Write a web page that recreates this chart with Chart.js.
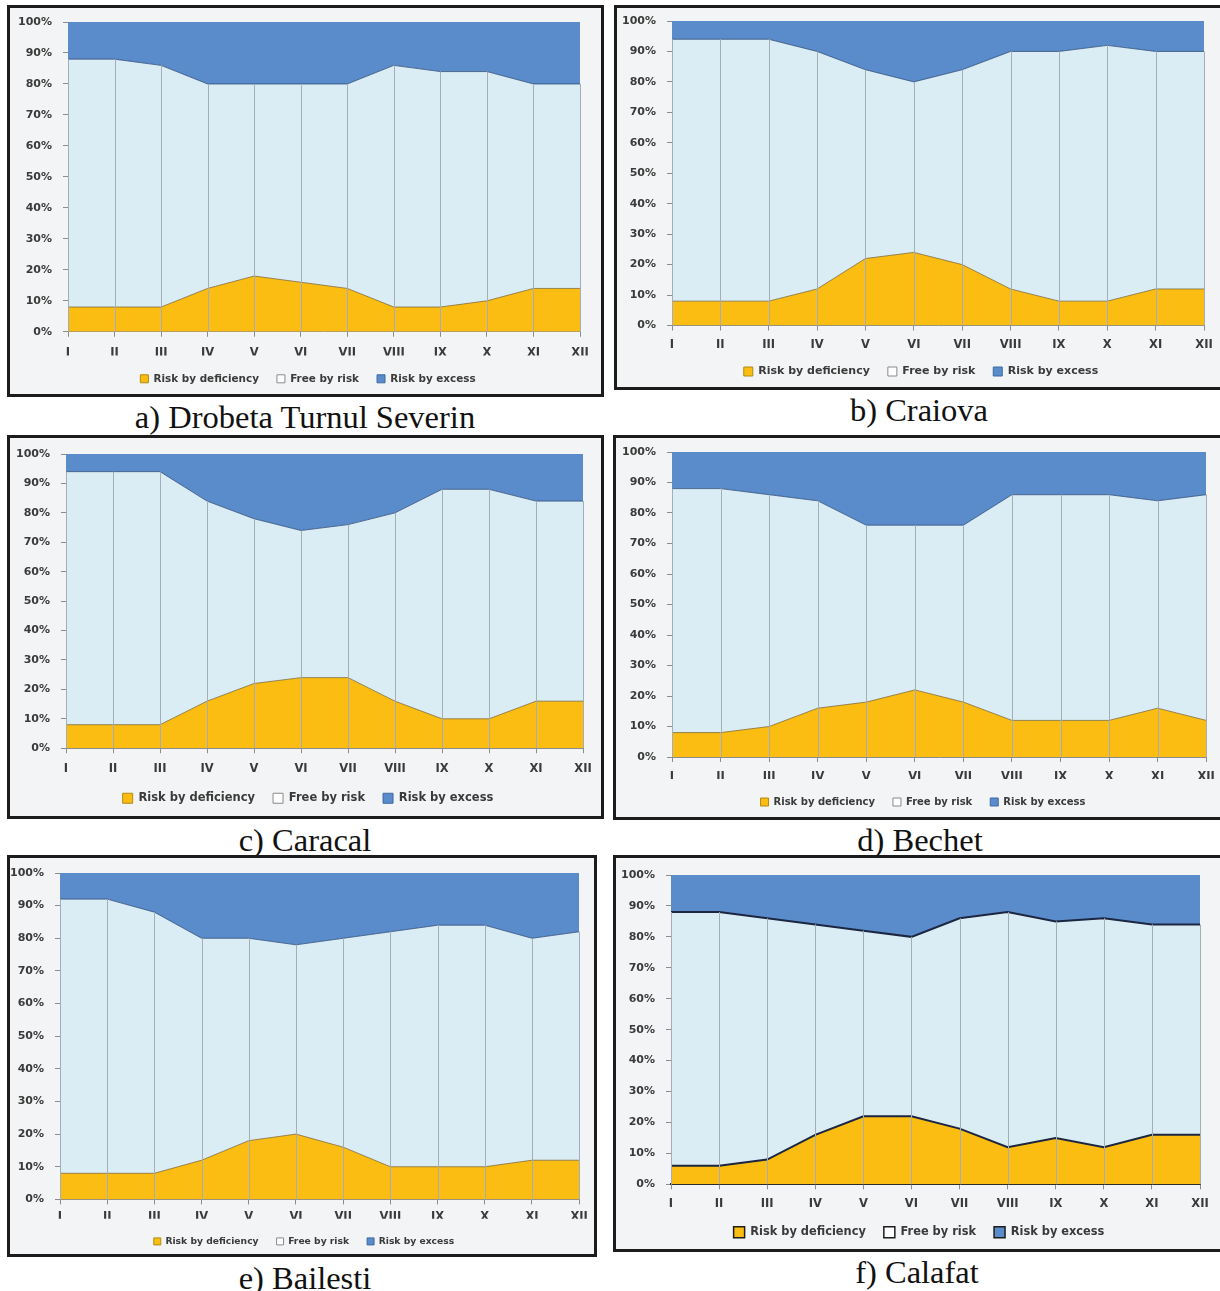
<!DOCTYPE html>
<html>
<head>
<meta charset="utf-8">
<title>Monthly risk frequency – stations</title>
<script src="https://cdn.jsdelivr.net/npm/chart.js@4.4.1/dist/chart.umd.min.js"></script>
<style>
  html, body { margin: 0; padding: 0; background: #ffffff; }
  body { width: 1220px; height: 1291px; position: relative; overflow: hidden; }
  .panel { position: absolute; box-sizing: border-box; border: 3px solid #1c1c1c; background: #f3f4f5; overflow: hidden; }
  .panel canvas { position: absolute; left: 0; top: 0; }
  .caption { position: absolute; font-family: "Liberation Serif", "Times New Roman", serif; font-size: 32.5px; color: #111; white-space: nowrap; transform: translate(-50%, -50%); line-height: 1; }
</style>
</head>
<body>
<script>
// Month labels on the category axis
const months = ['I', 'II', 'III', 'IV', 'V', 'VI', 'VII', 'VIII', 'IX', 'X', 'XI', 'XII'];
const seriesNames = ['Risk by deficiency', 'Free by risk', 'Risk by excess'];
const percentTicks = [0, 10, 20, 30, 40, 50, 60, 70, 80, 90, 100];

// a) Drobeta Turnul Severin (% of years)
const drobetaDeficiency = [8, 8, 8, 14, 18, 16, 14, 8, 8, 10, 14, 14];
const drobetaFree       = [80, 80, 78, 66, 62, 64, 66, 78, 76, 74, 66, 66];
const drobetaExcess     = [12, 12, 14, 20, 20, 20, 20, 14, 16, 16, 20, 20];

// b) Craiova
const craiovaDeficiency = [8, 8, 8, 12, 22, 24, 20, 12, 8, 8, 12, 12];
const craiovaFree       = [86, 86, 86, 78, 62, 56, 64, 78, 82, 84, 78, 78];
const craiovaExcess     = [6, 6, 6, 10, 16, 20, 16, 10, 10, 8, 10, 10];

// c) Caracal
const caracalDeficiency = [8, 8, 8, 16, 22, 24, 24, 16, 10, 10, 16, 16];
const caracalFree       = [86, 86, 86, 68, 56, 50, 52, 64, 78, 78, 68, 68];
const caracalExcess     = [6, 6, 6, 16, 22, 26, 24, 20, 12, 12, 16, 16];

// d) Bechet
const bechetDeficiency = [8, 8, 10, 16, 18, 22, 18, 12, 12, 12, 16, 12];
const bechetFree       = [80, 80, 76, 68, 58, 54, 58, 74, 74, 74, 68, 74];
const bechetExcess     = [12, 12, 14, 16, 24, 24, 24, 14, 14, 14, 16, 14];

// e) Bailesti
const bailestiDeficiency = [8, 8, 8, 12, 18, 20, 16, 10, 10, 10, 12, 12];
const bailestiFree       = [84, 84, 80, 68, 62, 58, 64, 72, 74, 74, 68, 70];
const bailestiExcess     = [8, 8, 12, 20, 20, 22, 20, 18, 16, 16, 20, 18];

// f) Calafat
const calafatDeficiency = [6, 6, 8, 16, 22, 22, 18, 12, 15, 12, 16, 16];
const calafatFree       = [82, 82, 78, 68, 60, 58, 68, 76, 70, 74, 68, 68];
const calafatExcess     = [12, 12, 14, 16, 18, 20, 14, 12, 15, 14, 16, 16];

const captions = ['a) Drobeta Turnul Severin', 'b) Craiova', 'c) Caracal', 'd) Bechet', 'e) Bailesti', 'f) Calafat'];

// Panel frames, plot rectangles, legend/caption anchors (page pixels)
const panels = [
  { caption: captions[0], def: drobetaDeficiency, free: drobetaFree, exc: drobetaExcess,
    box: [7, 5, 604, 397], plot: { left: 68, right: 580, top: 22, bottom: 331 },
    xLabelY: 352, legendY: 378, legendX: 308, legendFont: 10.4, legendBox: 8, cap: [305, 417], style: 'thin' },
  { caption: captions[1], def: craiovaDeficiency, free: craiovaFree, exc: craiovaExcess,
    box: [614, 5, 1226, 390], plot: { left: 672, right: 1204, top: 21, bottom: 325 },
    xLabelY: 345, legendY: 371, legendX: 921, legendFont: 11, legendBox: 9, cap: [919, 410], style: 'thin' },
  { caption: captions[2], def: caracalDeficiency, free: caracalFree, exc: caracalExcess,
    box: [7, 435, 604, 819], plot: { left: 66, right: 583, top: 454, bottom: 748 },
    xLabelY: 769, legendY: 798, legendX: 308, legendFont: 11.5, legendBox: 10, cap: [305, 840], style: 'thin' },
  { caption: captions[3], def: bechetDeficiency, free: bechetFree, exc: bechetExcess,
    box: [613, 435, 1226, 820], plot: { left: 672, right: 1207, top: 452, bottom: 757 },
    xLabelY: 777, legendY: 802, legendX: 923, legendFont: 10, legendBox: 8, cap: [920, 840], style: 'thin' },
  { caption: captions[4], def: bailestiDeficiency, free: bailestiFree, exc: bailestiExcess,
    box: [7, 855, 597, 1257], plot: { left: 60, right: 580, top: 873, bottom: 1199 },
    xLabelY: 1217, legendY: 1241, legendX: 304, legendFont: 9.2, legendBox: 7, cap: [305, 1278], style: 'thin' },
  { caption: captions[5], def: calafatDeficiency, free: calafatFree, exc: calafatExcess,
    box: [613, 855, 1226, 1252], plot: { left: 671, right: 1200, top: 875, bottom: 1184 },
    xLabelY: 1204, legendY: 1232, legendX: 919, legendFont: 11.4, legendBox: 11, cap: [917, 1272], style: 'bold' }
];

const COLORS = {
  deficiency: '#fbbd12',
  free: '#daedf5',
  excess: '#5a8bcb',
  drop: '#a3aeb6',
  axis: '#8c8c8c',
  text: '#3a3a3a'
};
const BORDER = 3;
const TICK_FONT = 'DejaVu Sans';

// Vertical drop lines from the top of the "free" band down to the category axis
const dropLines = {
  id: 'dropLines',
  afterDatasetsDraw(chart, args, opts) {
    const ctx = chart.ctx;
    const mid = chart.getDatasetMeta(1);
    const yBase = chart.scales.y.getPixelForValue(0);
    ctx.save();
    ctx.strokeStyle = opts.color;
    ctx.lineWidth = 1;
    mid.data.forEach((pt) => {
      const x = Math.round(pt.x) + 0.5;
      ctx.beginPath();
      ctx.moveTo(x, pt.y);
      ctx.lineTo(x, yBase);
      ctx.stroke();
    });
    ctx.restore();
  }
};

// Slides the full-width legend sideways so it sits under the middle of the panel
const legendShift = {
  id: 'legendShift',
  afterLayout(chart, args, opts) {
    if (chart.legend && opts.dx) {
      chart.legend.left += opts.dx;
      chart.legend.right += opts.dx;
    }
  }
};

function buildPanel(p) {
  const div = document.createElement('div');
  div.className = 'panel';
  div.style.left = p.box[0] + 'px';
  div.style.top = p.box[1] + 'px';
  div.style.width = (p.box[2] - p.box[0]) + 'px';
  div.style.height = (p.box[3] - p.box[1]) + 'px';
  document.body.appendChild(div);

  const innerL = p.box[0] + BORDER, innerT = p.box[1] + BORDER, innerR = p.box[2] - BORDER;
  const W = innerR - innerL;
  const padTop = p.plot.top - innerT;
  const padRight = innerR - p.plot.right;
  const yWidth = p.plot.left - innerL;
  const legendDx = (p.legendX - innerL) - (W - padRight) / 2;
  const legPad = 18;
  const lf = p.legendFont;
  const itemH = Math.max(lf, p.legendBox);
  const xFont = 11.5;
  const xTick = 5;
  const xHeight = p.legendY - p.plot.bottom - legPad - itemH / 2;
  const xPadding = p.xLabelY - p.plot.bottom - xTick - xFont * 0.6;
  const legH = itemH + legPad + 10;
  const H = Math.ceil(padTop + (p.plot.bottom - p.plot.top) + xHeight + legH);

  const canvas = document.createElement('canvas');
  canvas.width = W; canvas.height = H;
  canvas.style.width = W + 'px'; canvas.style.height = H + 'px';
  div.appendChild(canvas);

  const bold = p.style === 'bold';
  const defLine = bold ? '#1d2640' : 'rgba(120,100,60,0.75)';
  const freeLine = bold ? '#1d2640' : 'rgba(45,75,120,0.8)';
  const lineW = bold ? 2 : 1;
  const boxStroke = bold ? '#1d1d1d' : null;

  new Chart(canvas, {
    type: 'line',
    data: {
      labels: months,
      datasets: [
        { label: seriesNames[0], data: p.def, backgroundColor: COLORS.deficiency, borderColor: defLine, borderWidth: lineW, fill: 'origin' },
        { label: seriesNames[1], data: p.free, backgroundColor: COLORS.free, borderColor: freeLine, borderWidth: lineW, fill: '-1' },
        { label: seriesNames[2], data: p.exc, backgroundColor: COLORS.excess, borderColor: COLORS.excess, borderWidth: 0, fill: '-1' }
      ]
    },
    options: {
      responsive: false,
      animation: false,
      devicePixelRatio: 1,
      layout: { padding: { left: 0, top: padTop, right: padRight, bottom: 0 } },
      elements: { point: { radius: 0, hoverRadius: 0 }, line: { tension: 0 } },
      scales: {
        x: {
          offset: false,
          grid: { display: true, drawOnChartArea: false, drawTicks: true, tickLength: xTick, color: COLORS.axis },
          border: { display: true, color: bold ? '#2a2a2a' : COLORS.axis, width: bold ? 2 : 1 },
          ticks: { autoSkip: false, maxRotation: 0, padding: xPadding, color: COLORS.text,
                   font: { family: TICK_FONT, size: xFont, weight: 'bold' } },
          afterFit(scale) { scale.height = xHeight; }
        },
        y: {
          stacked: true,
          min: 0, max: 100,
          afterBuildTicks(scale) { scale.ticks = percentTicks.map(v => ({ value: v })); },
          grid: { display: true, drawOnChartArea: false, drawTicks: true, tickLength: 5, color: COLORS.axis },
          border: { display: true, color: COLORS.axis },
          ticks: { padding: 11, color: COLORS.text, callback: v => v + '%',
                   font: { family: TICK_FONT, size: 11, weight: 'bold' } },
          afterFit(scale) {
            scale.width = yWidth;
            scale.paddingTop = 0;
            scale.paddingBottom = 0;
          }
        }
      },
      plugins: {
        legend: {
          position: 'bottom',
          labels: {
            boxWidth: p.legendBox, boxHeight: p.legendBox, padding: legPad, color: COLORS.text,
            font: { family: TICK_FONT, size: lf, weight: 'bold' },
            generateLabels(chart) {
              return chart.data.datasets.map((ds, i) => ({
                text: ds.label,
                fillStyle: i === 1 ? '#ffffff' : ds.backgroundColor,
                strokeStyle: boxStroke || (i === 0 ? '#b08a10' : i === 1 ? '#8a8a8a' : '#3d6aa3'),
                lineWidth: bold ? 1.5 : 1,
                fontColor: COLORS.text,
                hidden: false,
                datasetIndex: i
              }));
            }
          }
        },
        tooltip: { enabled: false },
        dropLines: { color: COLORS.drop },
        legendShift: { dx: legendDx }
      }
    },
    plugins: [dropLines, legendShift]
  });

  const cap = document.createElement('div');
  cap.className = 'caption';
  cap.textContent = p.caption;
  cap.style.left = p.cap[0] + 'px';
  cap.style.top = p.cap[1] + 'px';
  document.body.appendChild(cap);
}

panels.forEach(buildPanel);
</script>
</body>
</html>
